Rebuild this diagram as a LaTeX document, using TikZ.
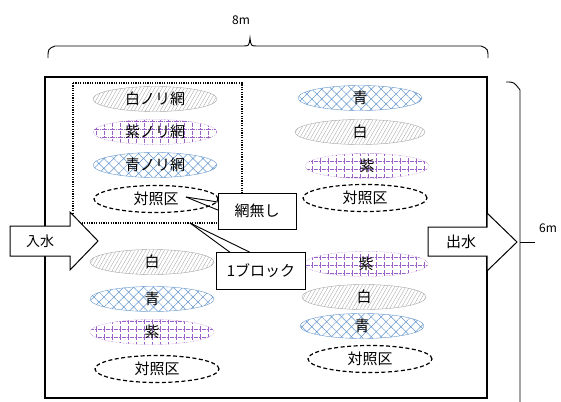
\documentclass[tikz,border=0pt]{standalone}
\usepackage{fontspec}
\setmainfont{Noto Sans CJK JP}
\usepackage{tikz}
\usetikzlibrary{shapes,patterns.meta}
\definecolor{shiro}{RGB}{165,165,165}
\definecolor{murasaki}{RGB}{155,95,200}
\definecolor{ao}{RGB}{100,150,205}
\tikzstyle{net} = [ellipse, minimum width=124pt, minimum height=25pt,
    inner sep=0pt, font=\fontsize{15}{17}\selectfont]
\tikzstyle{shironet} = [net, draw=shiro, pattern color=shiro,
    pattern={Lines[angle=60,distance=3.2pt,line width=0.35pt]}]
\tikzstyle{murasakinet} = [net, draw=murasaki, densely dotted, pattern color=murasaki,
    pattern={Hatch[angle=0,distance=8pt,line width=0.5pt]}]
\tikzstyle{aonet} = [net, draw=ao, pattern color=ao,
    pattern={Hatch[angle=45,distance=7pt,line width=0.5pt]}]
\tikzstyle{control} = [net, draw, fill=white, line width=1.2pt,
    dash pattern=on 4pt off 2.5pt, minimum height=27pt]
\tikzstyle{tag} = [draw, fill=white, rectangle, inner sep=0pt,
    font=\fontsize{15}{17}\selectfont]
\tikzstyle{water} = [draw, fill=white, line width=1pt, line join=miter]
\tikzstyle{size} = [font=\fontsize{12}{14}\selectfont]

\begin{document}
\begin{tikzpicture}[x=1pt, y=-1pt]

    \useasboundingbox (0,0) rectangle (561,401);

    \draw [line width=1.3pt] (45,77) rectangle (487,398);
    \draw [line width=1.4pt, dash pattern=on 1.2pt off 1.2pt] (73,83) rectangle (242,223);

    % sizes
    \coordinate (wl) at (48,58);
    \coordinate (wr) at (488,58);
    \coordinate (wtip) at (250,38);
    \draw [line width=0.9pt] (wl) .. controls (48,49) .. (55,46) -- (243,46)
        .. controls (249,46) .. (wtip) .. controls (251,46) .. (257,46)
        -- (481,46) .. controls (488,49) .. (wr);
    \node [size] (width) at (241,20) {8m};
    \coordinate (ht) at (506,82);
    \coordinate (hb) at (520,410);
    \coordinate (hmid) at (520,242);
    \coordinate (htip) at (535,242);
    \draw [line width=0.9pt] (ht) .. controls (514,82) .. (520,90) -- (hb);
    \draw [line width=0.9pt] (hmid) -- (htip);
    \node [size] (height) at (548,228) {6m};

    % block 1
    \node [shironet] (w1) at (155,99) {白ノリ網};
    \node [murasakinet] (p1) at (155,132) {紫ノリ網};
    \node [aonet] (b1) at (155,165) {青ノリ網};
    \node [control] (c1) at (156,199) {対照区};

    % block 2
    \node [aonet] (b2) at (360,98) {青};
    \node [shironet, minimum width=130pt] (w2) at (360,132) {白};
    \node [murasakinet] (p2) at (367,166) {紫};
    \node [control] (c2) at (365,198) {対照区};

    % block 3
    \node [shironet] (w3) at (152,262) {白};
    \node [aonet] (b3) at (152,299) {青};
    \node [murasakinet] (p3) at (152,332) {紫};
    \node [control] (c3) at (157,369) {対照区};

    % block 4
    \node [murasakinet] (p4) at (366,264) {紫};
    \node [shironet] (w4) at (364,297) {白};
    \node [aonet] (b4) at (362,326) {青};
    \node [control] (c4) at (370,359) {対照区};

    \draw [water] (10,226) -- (70,226) -- (70,212) -- (98,241) -- (70,270)
        -- (70,256) -- (10,256) -- cycle;
    \node [font=\fontsize{14}{16}\selectfont] (inflow) at (40,241) {入水};
    \draw [water] (428,227) -- (487,227) -- (487,213) -- (517,242) -- (487,271)
        -- (487,256) -- (428,256) -- cycle;
    \node [font=\fontsize{15}{17}\selectfont] (outflow) at (461,242) {出水};

    \node [tag, minimum width=78pt, minimum height=36pt] (nonet) at (257,211) {網無し};
    \node [tag, minimum width=89pt, minimum height=37pt] (block) at (261,271) {1ブロック};
    \coordinate (nonettip) at (186,197);
    \coordinate (blocktip) at (190,223);
    \draw [line width=0.9pt] (nonettip) -- ([yshift=9pt]nonet.west);
    \draw [line width=0.9pt] (nonettip) -- ([yshift=1pt]nonet.west);
    \draw [line width=0.9pt] (blocktip) -- ([xshift=-31pt]block.north);
    \draw [line width=0.9pt] (blocktip) -- ([xshift=-11pt]block.north);
\end{tikzpicture}
\end{document}
